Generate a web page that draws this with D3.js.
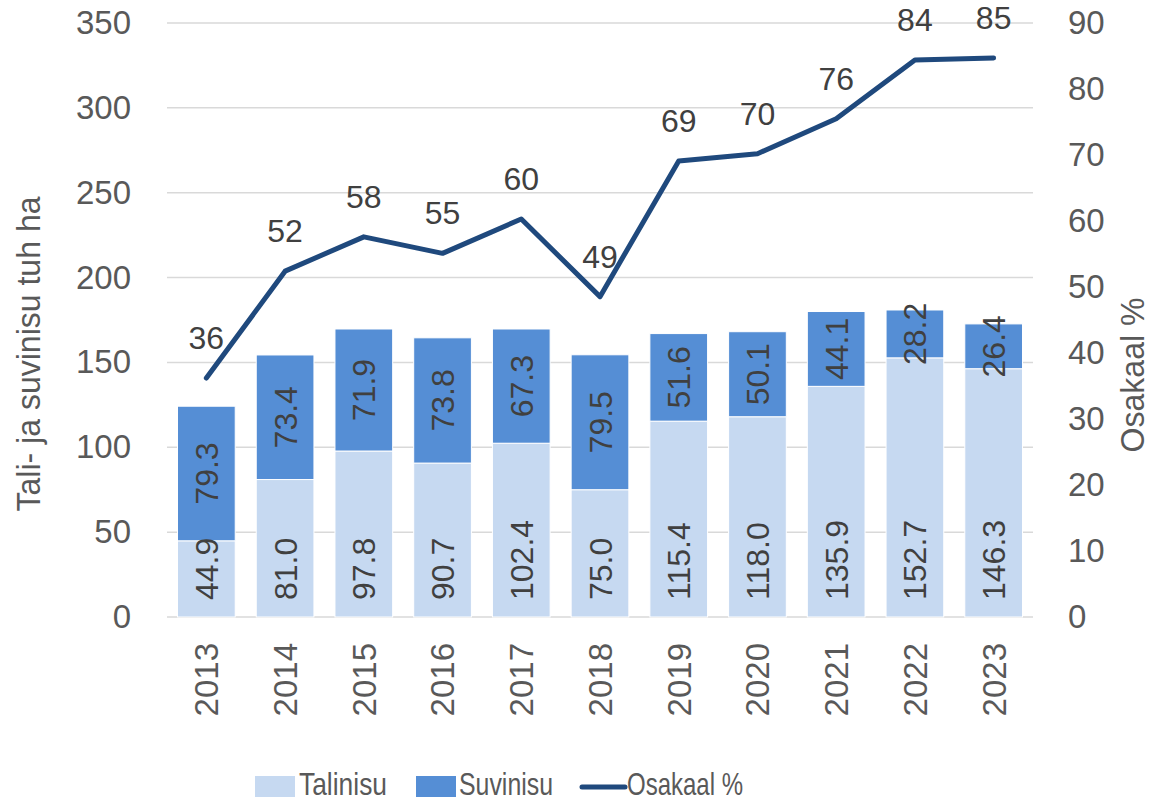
<!DOCTYPE html>
<html><head><meta charset="utf-8">
<script src="https://cdn.jsdelivr.net/npm/d3@7/dist/d3.min.js"></script>
<style>
body{margin:0;background:#fff}
svg{display:block}
text{font-family:"Liberation Sans",Arial,sans-serif}
</style>
</head><body>
<svg id="chart" width="1152" height="804"></svg>
<script>
const years = ["2013","2014","2015","2016","2017","2018","2019","2020","2021","2022","2023"];
const talinisu = [44.9,81.0,97.8,90.7,102.4,75.0,115.4,118.0,135.9,152.7,146.3];
const suvinisu = [79.3,73.4,71.9,73.8,67.3,79.5,51.6,50.1,44.1,28.2,26.4];
const osakaal = [36.2,52.4,57.6,55.1,60.3,48.54,69.1,70.2,75.5,84.4,84.7];
const leftTicks = [0,50,100,150,200,250,300,350];
const rightTicks = [0,10,20,30,40,50,60,70,80,90];
const seriesNames = ["Talinisu","Suvinisu","Osakaal %"];
const leftTitle = "Tali- ja suvinisu tuh ha";
const rightTitle = "Osakaal %";

const colLight = "#c6d9f1", colDark = "#558ed5", colLine = "#1f497d";
const plot = {l:167, r:1033, t:23, b:617};

const svg = d3.select("#chart");
const x = d3.scaleBand().domain(years).range([plot.l, plot.r]).paddingInner(0.267).paddingOuter(0.1335);
const yL = d3.scaleLinear().domain([0,350]).range([plot.b, plot.t]);
const yR = d3.scaleLinear().domain([0,90]).range([plot.b, plot.t]);

// gridlines
svg.append("g").selectAll("line").data(leftTicks).join("line")
  .attr("x1", plot.l).attr("x2", plot.r)
  .attr("y1", d=>yL(d)).attr("y2", d=>yL(d))
  .attr("stroke", "#d9d9d9").attr("stroke-width", 1.5);

const rows = years.map((y,i)=>({y, t:talinisu[i], s:suvinisu[i], p:osakaal[i]}));

// bars
const bars = svg.append("g");
bars.selectAll("rect.t").data(rows).join("rect").attr("class","t")
  .attr("x", d=>x(d.y)).attr("width", x.bandwidth())
  .attr("y", d=>yL(d.t)).attr("height", d=>yL(0)-yL(d.t))
  .attr("fill", colLight).attr("stroke","#fff").attr("stroke-width",1);
bars.selectAll("rect.s").data(rows).join("rect").attr("class","s")
  .attr("x", d=>x(d.y)).attr("width", x.bandwidth())
  .attr("y", d=>yL(d.t+d.s)).attr("height", d=>yL(d.t)-yL(d.t+d.s))
  .attr("fill", colDark).attr("stroke","#fff").attr("stroke-width",1);

// bar labels
const fmt1 = d3.format(".1f");
const cx = d => x(d.y) + x.bandwidth()/2;
svg.append("g").selectAll("text").data(rows).join("text")
  .attr("transform", d=>`translate(${cx(d)},${yL(0)-17}) rotate(-90)`)
  .attr("dy","0.36em").attr("text-anchor","start")
  .attr("font-size",32).attr("fill","#404040").text(d=>fmt1(d.t));
svg.append("g").selectAll("text").data(rows).join("text")
  .attr("transform", d=>`translate(${cx(d)},${yL(d.t + d.s/2)}) rotate(-90)`)
  .attr("dy","0.36em").attr("text-anchor","middle")
  .attr("font-size",32).attr("fill","#404040").text(d=>fmt1(d.s));

// line
const line = d3.line().x(d=>cx(d)).y(d=>yR(d.p));
svg.append("path").datum(rows).attr("d", line)
  .attr("fill","none").attr("stroke",colLine).attr("stroke-width",5)
  .attr("stroke-linejoin","round").attr("stroke-linecap","round");
svg.append("g").selectAll("text").data(rows).join("text")
  .attr("x", cx).attr("y", d=>yR(d.p)-29)
  .attr("text-anchor","middle").attr("font-size",32).attr("fill","#404040")
  .text(d=>Math.round(d.p));

// axes
const axL = svg.append("g").attr("transform",`translate(${plot.l},0)`)
  .call(d3.axisLeft(yL).tickValues(leftTicks).tickSize(0).tickPadding(36));
const axR = svg.append("g").attr("transform",`translate(${plot.r},0)`)
  .call(d3.axisRight(yR).tickValues(rightTicks).tickSize(0).tickPadding(35));
[axL,axR].forEach(a=>{
  a.select(".domain").remove();
  a.selectAll("text").attr("font-size",33).attr("fill","#595959")
   .attr("font-family",'"Liberation Sans",Arial,sans-serif');
});
const axB = svg.append("g").attr("transform",`translate(0,${plot.b})`)
  .call(d3.axisBottom(x).tickSize(0));
axB.select(".domain").remove();
axB.selectAll("text").attr("font-size",33).attr("fill","#595959")
  .attr("font-family",'"Liberation Sans",Arial,sans-serif')
  .attr("transform","translate(0,26) rotate(-90)")
  .attr("text-anchor","end").attr("x",0).attr("y",0).attr("dy","0.36em");

// axis titles
svg.append("text").attr("transform","translate(40,354) rotate(-90)")
  .attr("text-anchor","middle").attr("font-size",34).attr("fill","#595959")
  .attr("textLength",315).attr("lengthAdjust","spacingAndGlyphs").text(leftTitle);
svg.append("text").attr("transform","translate(1144,375) rotate(-90)")
  .attr("text-anchor","middle").attr("font-size",33).attr("fill","#595959")
  .attr("textLength",155).attr("lengthAdjust","spacingAndGlyphs").text(rightTitle);

// legend
const lg = svg.append("g");
const legendItems = [
  {name:seriesNames[0], type:"rect", color:colLight, sx:255, tx:299, tl:88},
  {name:seriesNames[1], type:"rect", color:colDark, sx:416, tx:459, tl:94},
  {name:seriesNames[2], type:"line", color:colLine, sx:582, tx:627, tl:116}
];
legendItems.forEach(it=>{
  if(it.type==="rect"){
    lg.append("rect").attr("x",it.sx).attr("y",776).attr("width",40).attr("height",21).attr("fill",it.color);
  } else {
    lg.append("line").attr("x1",it.sx).attr("x2",it.sx+43).attr("y1",787).attr("y2",787)
      .attr("stroke",it.color).attr("stroke-width",5).attr("stroke-linecap","round");
  }
  lg.append("text").attr("x",it.tx).attr("y",795).attr("font-size",32).attr("fill","#595959")
    .attr("textLength",it.tl).attr("lengthAdjust","spacingAndGlyphs").text(it.name);
});
</script>
</body></html>
